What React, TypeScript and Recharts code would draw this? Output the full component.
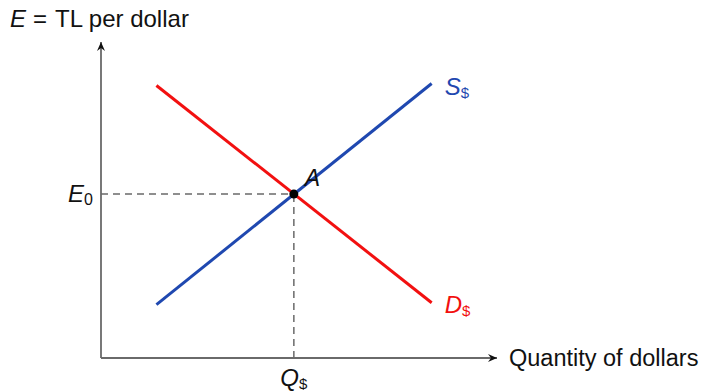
import React from 'react';
import { ComposedChart, Line, XAxis, YAxis, ReferenceLine, ReferenceDot } from 'recharts';

// line end points, in chart units (x: 0..10, y: 0..8)
const supplyData = [
  { x: 1.4, y: 1.35 },
  { x: 8.35, y: 6.95 },
];
const demandData = [
  { x: 1.4, y: 6.9 },
  { x: 8.35, y: 1.4 },
];
const equilibrium = { x: 4.87, y: 4.15 };
const xTicks = [equilibrium.x];
const yTicks = [equilibrium.y];

const FONT = '"Liberation Sans", Arial, sans-serif';
const AXIS = '#6a6a6a';
const BLUE = '#1f48b0';
const RED = '#f21010';

const YTick = (props: any) => {
  const { x, y } = props;
  return (
    <text x={x} y={y} dy={8} textAnchor="end" fontFamily={FONT} fontSize={24} fill="#111">
      <tspan fontStyle="italic">E</tspan>
      <tspan fontSize={16} dy={3}>0</tspan>
    </text>
  );
};

const XTick = (props: any) => {
  const { x, y } = props;
  return (
    <text x={x} y={y} dy={20} textAnchor="middle" fontFamily={FONT} fontSize={24} fill="#111">
      <tspan fontStyle="italic">Q</tspan>
      <tspan fontSize={15} dy={3}>$</tspan>
    </text>
  );
};

const endLabel = (name: string, color: string, dy: number) => (props: any) => {
  const { x, y, index } = props;
  if (index !== 1) return null;
  return (
    <text x={x + 13} y={y + dy} fontFamily={FONT} fontSize={24} fill={color}>
      <tspan fontStyle="italic">{name}</tspan>
      <tspan fontSize={15} dy={3}>$</tspan>
    </text>
  );
};

const ArrowUp = (props: any) => {
  const { cx, cy } = props;
  return <path d={`M${cx},${cy} L${cx - 4},${cy + 9} L${cx},${cy + 6} L${cx + 4},${cy + 9} Z`} fill="#111" />;
};

const ArrowRight = (props: any) => {
  const { cx, cy } = props;
  return <path d={`M${cx},${cy} L${cx - 9},${cy - 4} L${cx - 6},${cy} L${cx - 9},${cy + 4} Z`} fill="#111" />;
};

const PointA = (props: any) => {
  const { cx, cy } = props;
  return (
    <g>
      <circle cx={cx} cy={cy} r={4.5} fill="#000" />
      <text x={cx + 11} y={cy - 8} fontFamily={FONT} fontSize={23} fontStyle="italic" fill="#111">A</text>
    </g>
  );
};

export default function App() {
  return (
    <div style={{ position: 'absolute', left: 0, top: 0, background: '#fff' }}>
      <ComposedChart width={703} height={391} margin={{ top: 42, right: 206, bottom: 3, left: 41 }}>
        <XAxis
          type="number"
          dataKey="x"
          domain={[0, 10]}
          ticks={xTicks}
          tick={<XTick />}
          tickLine={false}
          axisLine={false}
          height={30}
          label={{
            content: (p: any) => (
              <text x={p.viewBox.x + p.viewBox.width + 12} y={p.viewBox.y + 8} fontFamily={FONT} fontSize={23.5} fill="#111">
                Quantity of dollars
              </text>
            ),
          }}
        />
        <YAxis
          type="number"
          dataKey="y"
          domain={[0, 8]}
          ticks={yTicks}
          tick={<YTick />}
          tickLine={false}
          axisLine={false}
          width={60}
          label={{
            content: (p: any) => (
              <text x={p.viewBox.x - 31} y={p.viewBox.y - 15} fontFamily={FONT} fontSize={24} fill="#111">
                <tspan fontStyle="italic">E</tspan>
                <tspan dx={7}>=</tspan>
                <tspan dx={8}>TL per dollar</tspan>
              </text>
            ),
          }}
        />
        {/* axes */}
        <ReferenceLine segment={[{ x: 0, y: 0 }, { x: 10, y: 0 }]} stroke={AXIS} strokeWidth={1.8} />
        <ReferenceLine segment={[{ x: 0, y: 0 }, { x: 0, y: 8 }]} stroke={AXIS} strokeWidth={1.8} />
        <ReferenceDot x={10} y={0} shape={<ArrowRight />} />
        <ReferenceDot x={0} y={8} shape={<ArrowUp />} />
        {/* dashed guides */}
        <ReferenceLine
          segment={[{ x: 0, y: equilibrium.y }, { x: equilibrium.x, y: equilibrium.y }]}
          stroke={AXIS}
          strokeWidth={1.5}
          strokeDasharray="7 5"
        />
        <ReferenceLine
          segment={[{ x: equilibrium.x, y: 0 }, { x: equilibrium.x, y: equilibrium.y }]}
          stroke={AXIS}
          strokeWidth={1.5}
          strokeDasharray="7 5"
        />
        <Line
          data={demandData}
          dataKey="y"
          type="linear"
          stroke={RED}
          strokeWidth={3}
          dot={false}
          isAnimationActive={false}
          label={endLabel('D', RED, 10)}
        />
        <Line
          data={supplyData}
          dataKey="y"
          type="linear"
          stroke={BLUE}
          strokeWidth={3}
          dot={false}
          isAnimationActive={false}
          label={endLabel('S', BLUE, 12)}
        />
        <ReferenceDot x={equilibrium.x} y={equilibrium.y} shape={<PointA />} />
      </ComposedChart>
    </div>
  );
}
